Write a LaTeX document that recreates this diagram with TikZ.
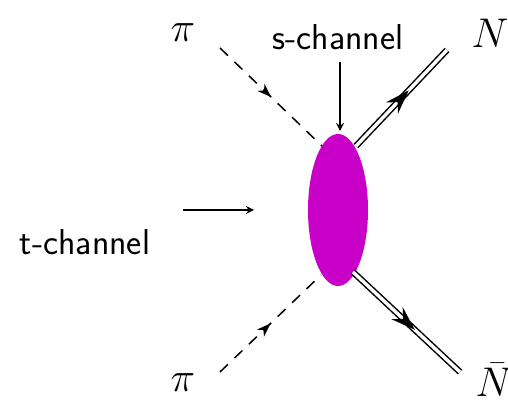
\documentclass[tikz,border=0pt]{standalone}
\usepackage{amsmath}
\usetikzlibrary{shapes.geometric,decorations.markings,arrows.meta}
\definecolor{blobmag}{RGB}{200,0,200}
\tikzset{
  blob/.style={ellipse, fill=blobmag, minimum width=30pt, minimum height=76pt, inner sep=0pt},
  pion/.style={dash pattern=on 5.5pt off 4.5pt, line width=0.75pt,
    postaction={decorate, decoration={markings, mark=at position 0.5 with {\arrow{Stealth[length=7pt,width=5pt]}}}}},
  nucleon/.style={double, double distance=1.7pt, line width=0.75pt,
    postaction={decorate, decoration={markings, mark=at position 0.58 with {\arrow{Stealth[length=12pt,width=8pt]}}}}},
  lbl/.style={font=\fontsize{22}{25}\selectfont},
  txt/.style={font=\fontsize{18}{21}\selectfont\sffamily},
}
\begin{document}
\begin{tikzpicture}[x=0.5pt, y=-0.5pt, >=stealth]
  \useasboundingbox (0,0) rectangle (508,410);
  \node[blob] (v) at (338,210) {};
  % external legs
  \node[lbl] (pia) at (183,33) {$\pi$};
  \node[lbl] (pib) at (183,383) {$\pi$};
  \node[lbl] (N) at (490,33) {$N$};
  \node[lbl, inner sep=1pt] (Nb) at (494,380) {$\bar{N}$};
  \coordinate (pia0) at (220,48);
  \coordinate (pia1) at (322,146);
  \coordinate (pib0) at (220,372);
  \coordinate (pib1) at (321,275);
  \coordinate (N0) at (356,146);
  \coordinate (N1) at (447,50);
  \coordinate (Nb0) at (353,272);
  \coordinate (Nb1) at (460,372);
  \draw[pion] (pia0) -- (pia1);
  \draw[pion] (pib0) -- (pib1);
  \draw[nucleon] (N0) -- (N1);
  \draw[nucleon] (Nb0) -- (Nb1);
  % channel labels
  \node[txt] (s) at (338,37) {s-channel};
  \node[txt] (t) at (85,242) {t-channel};
  \coordinate (s0) at (340,62);
  \coordinate (s1) at (340,131);
  \coordinate (t0) at (183,210);
  \coordinate (t1) at (254,210);
  \draw[->, line width=0.8pt] (s0) -- (s1);
  \draw[->, line width=0.8pt] (t0) -- (t1);
\end{tikzpicture}
\end{document}
